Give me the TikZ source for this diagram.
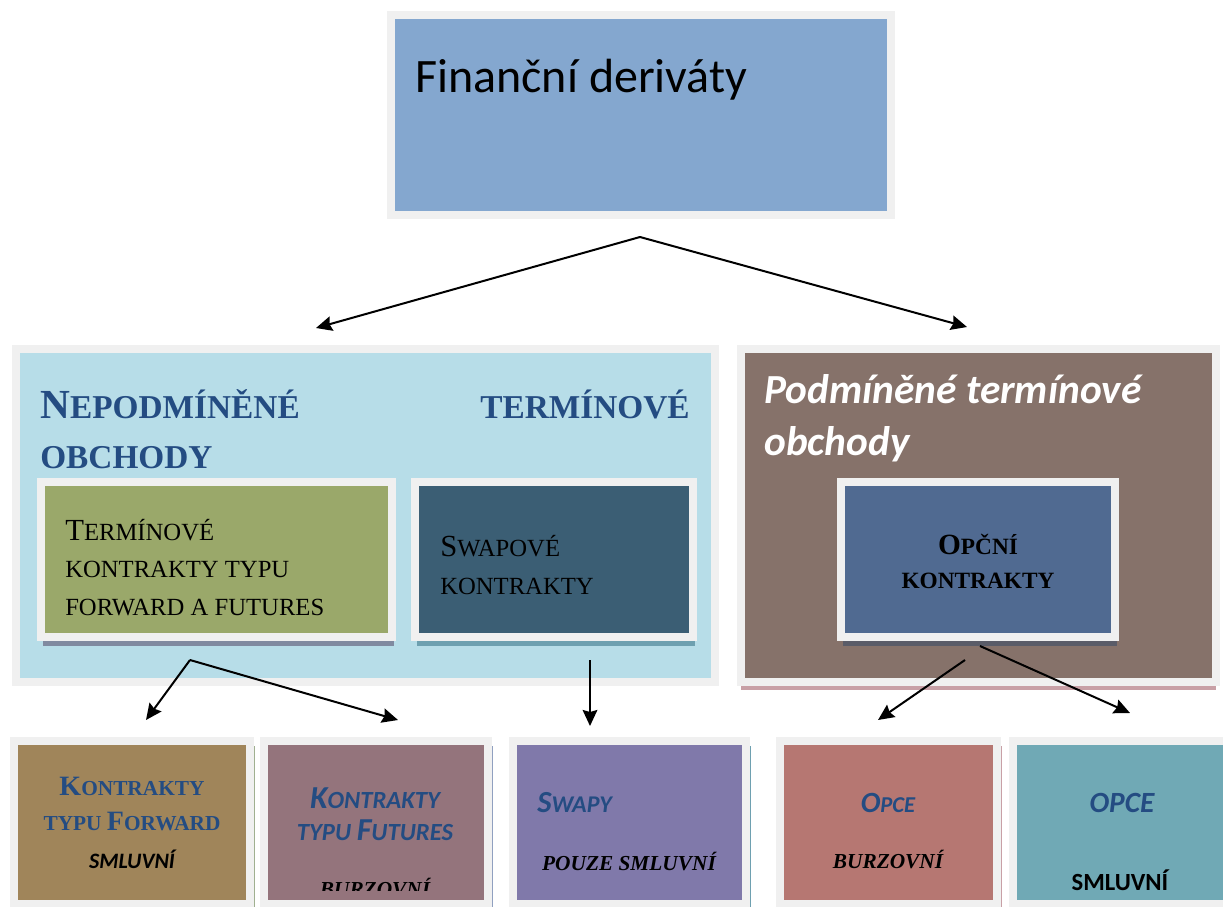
\documentclass[tikz,border=0pt]{standalone}
\usepackage{fontspec}
\setmainfont{Liberation Serif}
\newfontfamily\calibri{Carlito}
\usetikzlibrary{arrows.meta,shadows}
\definecolor{framegrey}{RGB}{240,240,240}
\definecolor{topblue}{RGB}{132,167,207}
\definecolor{nepblue}{RGB}{183,221,232}
\definecolor{fwdgreen}{RGB}{154,168,106}
\definecolor{swapteal}{RGB}{59,94,116}
\definecolor{podbrown}{RGB}{134,114,106}
\definecolor{opcblue}{RGB}{80,106,145}
\definecolor{titleblue}{RGB}{36,76,130}
\definecolor{fwdbrown}{RGB}{160,133,90}
\definecolor{futmauve}{RGB}{148,116,124}
\definecolor{swappurple}{RGB}{128,121,170}
\definecolor{opcered}{RGB}{182,119,114}
\definecolor{opcecyan}{RGB}{112,169,181}
\definecolor{shgreyblue}{RGB}{128,138,160}
\definecolor{shteal}{RGB}{110,160,176}
\definecolor{shdark}{RGB}{90,92,104}
\definecolor{shpink}{RGB}{200,160,166}
\definecolor{shgreen}{RGB}{160,176,144}
\definecolor{shblue}{RGB}{144,160,192}
\newcommand\capinit[2]{{\fontsize{#1}{#1}\selectfont #2}}

\begin{document}
\begin{tikzpicture}[x=0.75pt,y=-0.75pt,
  panel/.style n args={3}{draw=framegrey,line width=6pt,fill=#1,
    minimum width=#2*0.75pt,minimum height=#3*0.75pt,inner sep=0pt},
  castshadow/.style n args={3}{drop shadow={shadow xshift=#2,shadow yshift=#3,fill=#1,opacity=1}},
  label/.style={inner sep=0pt},
  link/.style={-{Stealth[length=12pt,width=11pt,inset=1.5pt]},line width=1.5pt}]
\useasboundingbox (0,0) rectangle (1223,906);
\fill[white] (0,0) rectangle (1223,906);

% top
\node[panel={topblue}{499.5}{200}] (fd) at (640.75,115) {};
\node[label,anchor=base west,font=\calibri\fontsize{36}{43}\selectfont] (fd-text) at (415,92) {Finanční deriváty};

% middle left (multi-line labels are placed at the last baseline)
\node[panel={nepblue}{699}{333.5}] (nep) at (365.5,515.25) {};
\node[label,anchor=base west,text=titleblue,font=\bfseries\fontsize{25}{30}\selectfont] (nep-t1) at (40,418) {\capinit{31}{N}EPODMÍNĚNÉ};
\node[label,anchor=base east,text=titleblue,font=\bfseries\fontsize{25}{30}\selectfont] (nep-t2) at (690,418) {TERMÍNOVÉ};
\node[label,anchor=base west,text=titleblue,font=\bfseries\fontsize{25}{30}\selectfont] (nep-t3) at (40,468) {OBCHODY};
\node[panel={fwdgreen}{351}{155},castshadow={shgreyblue}{1.5pt}{-6.5pt}] (fwd) at (216.5,559.5) {};
\node[label,anchor=base west,align=left,font=\fontsize{18.5}{28}\selectfont] (fwd-text) at (65,615)
  {\capinit{23}{T}ERMÍNOVÉ\\KONTRAKTY TYPU\\FORWARD A FUTURES};
\node[panel={swapteal}{277.5}{155},castshadow={shteal}{1.5pt}{-6.5pt}] (swk) at (553.75,559.5) {};
\node[label,anchor=base west,align=left,font=\fontsize{18.5}{28}\selectfont] (swk-text) at (440,594)
  {\capinit{23}{S}WAPOVÉ\\KONTRAKTY};

% middle right
\node[panel={podbrown}{475}{333},castshadow={shpink}{0pt}{-6pt}] (pod) at (978.5,515.5) {};
\node[label,anchor=base west,align=left,text=white,font=\calibri\bfseries\itshape\fontsize{31}{39}\selectfont] (pod-text) at (764,455)
  {Podmíněné termínové\\obchody};
\node[panel={opcblue}{274}{155},castshadow={shdark}{1.5pt}{-6.5pt}] (opk) at (978,559.5) {};
\node[label,anchor=base,align=center,font=\bfseries\fontsize{17.5}{25}\selectfont] (opk-text) at (978,588)
  {\capinit{22}{O}PČNÍ\\KONTRAKTY};

% bottom row
\node[panel={fwdbrown}{235.5}{163},castshadow={shgreen}{4pt}{-4pt}] (fwb) at (131.75,822.5) {};
\node[label,anchor=base,align=center,text=titleblue,font=\bfseries\fontsize{16}{26}\selectfont] (fwb-t1) at (132,830)
  {\capinit{21}{K}ONTRAKTY\\TYPU \capinit{21}{F}ORWARD};
\node[label,anchor=base,font=\calibri\bfseries\itshape\fontsize{16.5}{20}\selectfont] (fwb-t2) at (132,868) {SMLUVNÍ};

\node[panel={futmauve}{223.5}{163},castshadow={shblue}{4pt}{-4pt}] (fub) at (375.75,822.5) {};
\node[label,anchor=base,align=center,text=titleblue,font=\calibri\bfseries\itshape\fontsize{18.5}{24}\selectfont] (fub-t1) at (375,840)
  {\capinit{24}{K}ONTRAKTY\\TYPU \capinit{24}{F}UTURES};
\begin{scope}
\clip (268,745) rectangle (484,890);
\node[label,anchor=base,font=\bfseries\itshape\fontsize{16}{20}\selectfont] (fub-t2) at (375,896) {BURZOVNÍ};
\end{scope}

\node[panel={swappurple}{233}{163},castshadow={shteal}{4pt}{-4pt}] (swb) at (629.5,822.5) {};
\node[label,anchor=base west,text=titleblue,font=\calibri\bfseries\itshape\fontsize{18}{22}\selectfont] (swb-t1) at (537,812) {\capinit{23}{S}WAPY};
\node[label,anchor=base,font=\bfseries\itshape\fontsize{16}{20}\selectfont] (swb-t2) at (629,870) {POUZE SMLUVNÍ};

\node[panel={opcered}{216.5}{163},castshadow={shpink}{4pt}{-4pt}] (opb) at (888.25,822.5) {};
\node[label,anchor=base,text=titleblue,font=\calibri\bfseries\itshape\fontsize{17}{22}\selectfont] (opb-t1) at (888,812) {\capinit{22}{O}PCE};
\node[label,anchor=base,font=\bfseries\itshape\fontsize{16}{20}\selectfont] (opb-t2) at (888,868) {BURZOVNÍ};

\node[panel={opcecyan}{214}{163}] (ocb) at (1120,822.5) {};
\node[label,anchor=base,text=titleblue,font=\calibri\bfseries\itshape\fontsize{22}{26}\selectfont] (ocb-t1) at (1122,812) {OPCE};
\node[label,anchor=base,font=\calibri\bfseries\fontsize{18.5}{22}\selectfont] (ocb-t2) at (1120,890) {SMLUVNÍ};

% arrows
\coordinate (fd-fork) at (640,237);
\coordinate (nep-in) at (316,328);
\coordinate (pod-in) at (967,327);
\draw[link] (fd-fork) -- (nep-in);
\draw[link] (fd-fork) -- (pod-in);
\coordinate (fwd-fork) at (190,660);
\coordinate (fwb-in) at (146,720);
\coordinate (fub-in) at (398,720);
\draw[link] (fwd-fork) -- (fwb-in);
\draw[link] (fwd-fork) -- (fub-in);
\coordinate (swk-out) at (590,660);
\coordinate (swb-in) at (590,726);
\draw[link] (swk-out) -- (swb-in);
\coordinate (opk-out1) at (965,660);
\coordinate (opk-out2) at (980,646);
\coordinate (opb-in) at (878,720);
\coordinate (ocb-in) at (1130,713);
\draw[link] (opk-out1) -- (opb-in);
\draw[link] (opk-out2) -- (ocb-in);
\end{tikzpicture}
\end{document}
